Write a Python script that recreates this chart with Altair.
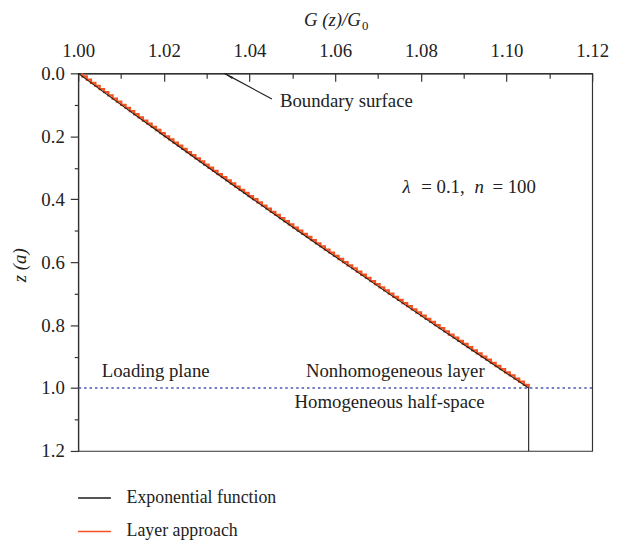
import altair as alt
import pandas as pd

FONT = "Liberation Serif"
FS = 19

# ---- data ----
series_names = ["Exponential function", "Layer approach"]
series_colors = ["#1c1c1c", "#f4511e"]

# exponential function: depth z (a) and G(z)/G0 (half-space below z = 1 is constant)
exp_z = [0.0, 0.1, 0.2, 0.3, 0.4, 0.5, 0.6, 0.7, 0.8, 0.9, 1.0, 1.2]
exp_g = [1.0, 1.01005, 1.02020, 1.03045, 1.04081, 1.05127, 1.06184,
         1.07251, 1.08329, 1.09417, 1.10517, 1.10517]

# layer approach: n = 100 homogeneous layers between z = 0 and z = 1
n_layers = 100
layer_g = [
    1.00100, 1.00200, 1.00300, 1.00401, 1.00501, 1.00602, 1.00702, 1.00803, 1.00904, 1.01005,
    1.01106, 1.01207, 1.01308, 1.01410, 1.01511, 1.01613, 1.01715, 1.01816, 1.01918, 1.02020,
    1.02122, 1.02224, 1.02327, 1.02429, 1.02532, 1.02634, 1.02737, 1.02840, 1.02942, 1.03045,
    1.03149, 1.03252, 1.03355, 1.03458, 1.03562, 1.03666, 1.03769, 1.03873, 1.03977, 1.04081,
    1.04185, 1.04289, 1.04394, 1.04498, 1.04603, 1.04707, 1.04812, 1.04917, 1.05022, 1.05127,
    1.05232, 1.05338, 1.05443, 1.05548, 1.05654, 1.05760, 1.05866, 1.05972, 1.06078, 1.06184,
    1.06290, 1.06397, 1.06503, 1.06610, 1.06716, 1.06823, 1.06930, 1.07037, 1.07144, 1.07251,
    1.07358, 1.07466, 1.07573, 1.07681, 1.07788, 1.07896, 1.08004, 1.08112, 1.08220, 1.08329,
    1.08437, 1.08546, 1.08654, 1.08763, 1.08872, 1.08981, 1.09090, 1.09199, 1.09308, 1.09417,
    1.09527, 1.09636, 1.09746, 1.09856, 1.09966, 1.10076, 1.10186, 1.10296, 1.10406, 1.10517,
]

loading_plane_z = [1.0]

x_ticks = [1.00, 1.02, 1.04, 1.06, 1.08, 1.10, 1.12]
x_minor = [1.01, 1.03, 1.05, 1.07, 1.09, 1.11]
y_ticks = [0.0, 0.2, 0.4, 0.6, 0.8, 1.0, 1.2]
y_minor = [0.1, 0.3, 0.5, 0.7, 0.9, 1.1]

# ---- tables ----
exp_df = pd.DataFrame({"G": exp_g, "z": exp_z, "series": series_names[0],
                       "idx": list(range(len(exp_z)))})
rows = []
for k, g in enumerate(layer_g):
    rows.append({"G": g, "z": k / n_layers, "idx": 2 * k})
    rows.append({"G": g, "z": (k + 1) / n_layers, "idx": 2 * k + 1})
layer_df = pd.DataFrame(rows)
layer_df["series"] = series_names[1]

W, H = 520, 382
xs = alt.Scale(domain=[1.0, 1.12], nice=False, zero=False)
ys = alt.Scale(domain=[0.0, 1.2], reverse=True, nice=False, zero=False)

color = alt.Color(
    "series:N",
    scale=alt.Scale(domain=series_names, range=series_colors),
    legend=alt.Legend(
        title=None, orient="none", legendX=-1, legendY=412,
        symbolType="stroke", symbolSize=1100, symbolStrokeWidth=1.5,
        labelFont=FONT, labelFontSize=18, labelColor="#222",
        labelOffset=15, rowPadding=7, padding=0,
    ),
)

layer_line = alt.Chart(layer_df).mark_line(strokeWidth=2.3).encode(
    x=alt.X("G:Q", scale=xs, axis=alt.Axis(
        orient="top", values=x_ticks, format=".2f", ticks=False,
        labelPadding=17, labelBaseline="alphabetic", labelFlush=False,
        title=None, grid=False)),
    y=alt.Y("z:Q", scale=ys, axis=alt.Axis(
        orient="left", values=y_ticks, format=".1f", tickSize=8,
        labelPadding=6, labelFlush=False, title=None, grid=False)),
    color=color,
    order=alt.Order("idx:Q"),
)

exp_line = alt.Chart(exp_df).mark_line(strokeWidth=1.1).encode(
    x=alt.X("G:Q", scale=xs, axis=alt.Axis(
        orient="bottom", offset=-H, values=x_ticks, labels=False,
        domain=False, tickSize=8, title=None, grid=False)),
    y=alt.Y("z:Q", scale=ys, axis=alt.Axis(
        orient="left", values=y_minor, labels=False, domain=False,
        tickSize=4, title=None, grid=False)),
    color=color,
    order=alt.Order("idx:Q"),
)

minor_x = alt.Chart(exp_df).mark_line(opacity=0).encode(
    x=alt.X("G:Q", scale=xs, axis=alt.Axis(
        orient="bottom", offset=-H, values=x_minor, labels=False,
        domain=False, tickSize=5, title=None, grid=False)),
    y=alt.Y("z:Q", scale=ys, axis=None),
)

plane = alt.Chart(pd.DataFrame({"z": loading_plane_z})).mark_rule(
    color="#4a55b0", strokeDash=[2.5, 3], strokeWidth=1.5
).encode(y=alt.Y("z:Q", scale=ys, axis=None))


def label(text, g, z, size=FS, italic=False, align="left", dx=0,
          baseline="alphabetic", angle=0):
    df = pd.DataFrame({"G": [g], "z": [z], "t": [text]})
    kw = dict(font=FONT, fontSize=size, align=align, baseline=baseline,
              dx=dx, color="#222", angle=angle)
    if italic:
        kw["fontStyle"] = "italic"
    return alt.Chart(df).mark_text(**kw).encode(
        x=alt.X("G:Q", scale=xs, axis=None),
        y=alt.Y("z:Q", scale=ys, axis=None),
        text="t:N",
    )


arrow_df = pd.DataFrame({"G": [1.04523, 1.03415], "z": [0.0817, 0.0]})
arrow = alt.Chart(arrow_df).mark_line(color="#222", strokeWidth=1.2).encode(
    x=alt.X("G:Q", scale=xs, axis=None), y=alt.Y("z:Q", scale=ys, axis=None))
head = alt.Chart(pd.DataFrame({"G": [1.0355], "z": [0.011]})).mark_point(
    shape="wedge", filled=True, size=90, angle=298, color="#222", opacity=1
).encode(x=alt.X("G:Q", scale=xs, axis=None), y=alt.Y("z:Q", scale=ys, axis=None))

texts = [
    label("Boundary surface", 1.0471, 0.107),
    label("λ", 1.0757, 0.380, italic=True),
    label("= 0.1,", 1.0757, 0.380, dx=19),
    label("n", 1.0757, 0.380, italic=True, dx=73),
    label("= 100", 1.0757, 0.380, dx=91),
    label("Loading plane", 1.0055, 0.9645),
    label("Nonhomogeneous layer", 1.0949, 0.9645, align="right"),
    label("Homogeneous half-space", 1.0949, 1.062, align="right"),
    label("G (z)/G", 1.06, -0.151, italic=True, align="right", dx=26),
    label("0", 1.06, -0.138, size=13, dx=27),
    label("z (a)", 0.98638, 0.61, italic=True, align="center",
          baseline="middle", angle=270),
]

chart = alt.layer(
    plane, layer_line, exp_line, minor_x, arrow, head, *texts
).resolve_axis(x="independent", y="independent").properties(
    width=W, height=H,
    autosize=alt.AutoSizeParams(type="none"),
    padding={"left": 71, "top": 63, "right": 17, "bottom": 90},
).configure_view(
    stroke="#333", strokeWidth=1.2
).configure_axis(
    labelFont=FONT, labelFontSize=FS, labelColor="#222",
    domainColor="#333", tickColor="#333", domainWidth=1.2, tickWidth=1.2,
)

chart.save("out.html", embed_options={"renderer": "svg", "actions": False})
